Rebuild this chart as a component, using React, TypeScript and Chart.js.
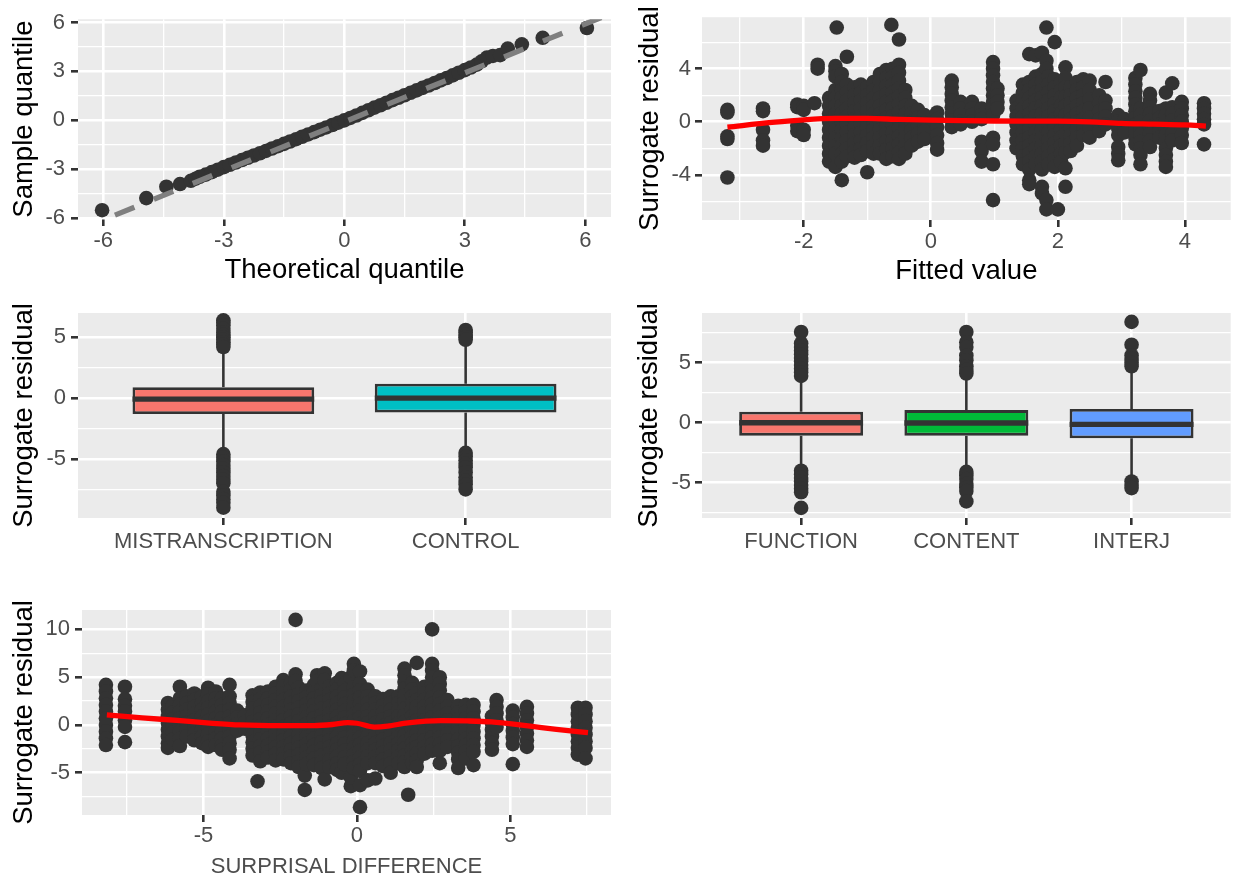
import React, { useEffect, useRef } from 'react';
import { Chart, registerables } from 'chart.js';
Chart.register(...registerables);

const FONT = "'Liberation Sans', Arial, Helvetica, sans-serif";
const TICK_SIZE = 22;
const TITLE_SIZE = 27.5;
const DARK = '#333333';

// ---------- Panel 1: Q-Q plot ----------
const qqPoints: [number, number][] = [
  [-6.03, -5.5], [-4.93, -4.76], [-4.43, -4.06], [-4.09, -3.9], [-3.82, -3.7], [-3.7, -3.57],
  [-3.6, -3.45], [-3.45, -3.32], [-3.3, -3.17], [-3.15, -3.02], [-3.0, -2.86], [-2.85, -2.72],
  [-2.7, -2.58], [-2.55, -2.43], [-2.4, -2.29], [-2.25, -2.15], [-2.1, -2.01], [-1.95, -1.87],
  [-1.8, -1.72], [-1.65, -1.58], [-1.5, -1.44], [-1.35, -1.29], [-1.2, -1.15], [-1.05, -1.0],
  [-0.9, -0.86], [-0.75, -0.72], [-0.6, -0.57], [-0.45, -0.43], [-0.3, -0.28], [-0.15, -0.14],
  [0, 0], [0.15, 0.15], [0.3, 0.3], [0.45, 0.46], [0.6, 0.62], [0.75, 0.78], [0.9, 0.93],
  [1.05, 1.08], [1.2, 1.24], [1.35, 1.39], [1.5, 1.54], [1.65, 1.69], [1.8, 1.84], [1.95, 1.99],
  [2.1, 2.14], [2.25, 2.29], [2.4, 2.45], [2.55, 2.6], [2.7, 2.76], [2.85, 2.92], [3.0, 3.08],
  [3.15, 3.24], [3.3, 3.42], [3.42, 3.62], [3.55, 3.85], [3.7, 3.95], [3.88, 4.0], [4.07, 4.4],
  [4.42, 4.66], [4.94, 5.06], [6.04, 5.66],
];
const qqLineX = [-5.71, 6.8];
const qqLineY = [-5.8, 6.71];

// ---------- Panel 2: residual vs fitted ----------
const fittedColumns: [number, number[]][] = [
  [-3.2, [0.9, 0.7, -1.1, -1.3, -4.2]],
  [-2.64, [1.0, 0.8, -0.6, -1.4, -1.8]],
  [-2.1, [1.3, 1.1, -0.3, -0.7]],
  [-2.0, [1.2, 0.9, -0.6, -1.0]],
  [-1.83, [1.4]],
  [-1.78, [4.3, 4.0]],
  [-1.6, [1.8, 1.2, 0.6, 0.0, -0.6, -1.2, -1.8, -2.4, -3.0]],
  [-1.5, [4.2, 3.8, 3.4, 2.4, 1.8, 1.2, 0.6, 0.0, -0.6, -1.2, -1.8, -2.4, -3.4]],
  [-1.48, [7.1]],
  [-1.4, [3.6, 3.0, 2.4, 1.8, 1.2, 0.6, 0.0, -0.6, -1.2, -1.8, -2.4, -3.0, -4.4]],
  [-1.32, [4.9, 2.8, 2.2, 1.6, 1.0, 0.4, -0.2, -0.8, -1.4, -2.0, -2.6]],
  [-1.2, [2.6, 2.0, 1.4, 0.8, 0.2, -0.4, -1.0, -1.6, -2.2, -2.7]],
  [-1.1, [2.8, 2.2, 1.6, 1.0, 0.4, -0.2, -0.8, -1.4, -2.0, -2.5]],
  [-1.0, [2.6, 2.0, 1.4, 0.8, 0.2, -0.4, -1.0, -1.6, -2.2, -3.8]],
  [-0.9, [3.0, 2.4, 1.8, 1.2, 0.6, 0.0, -0.6, -1.2, -1.8, -2.4]],
  [-0.8, [3.6, 3.0, 2.4, 1.8, 1.2, 0.6, 0.0, -0.6, -1.2, -1.8, -2.4]],
  [-0.7, [3.9, 3.3, 2.7, 2.1, 1.5, 0.9, 0.3, -0.3, -0.9, -1.5, -2.1, -2.8]],
  [-0.62, [7.3]],
  [-0.6, [4.0, 3.4, 2.8, 2.2, 1.6, 1.0, 0.4, -0.2, -0.8, -1.4, -2.0, -2.6]],
  [-0.5, [6.2, 4.3, 3.7, 3.1, 2.5, 1.9, 1.3, 0.7, 0.1, -0.5, -1.1, -1.7, -2.3, -2.8]],
  [-0.4, [2.4, 1.8, 1.2, 0.6, 0.0, -0.6, -1.2, -1.8, -2.4]],
  [-0.3, [1.2, 0.6, 0.0, -0.6, -1.2, -1.8]],
  [-0.2, [0.9, 0.3, -0.3, -0.9, -1.5]],
  [-0.1, [0.5, -0.1, -0.7, -1.3]],
  [0.1, [0.7, 0.2, -0.4, -1.0, -1.6, -2.1]],
  [0.33, [3.1, 2.6, 2.1, 1.6, 1.1, 0.6, 0.1, -0.4]],
  [0.47, [1.5, 1.0, 0.5, 0.0, -0.2]],
  [0.65, [1.5, 1.0, 0.5, 0.0]],
  [0.8, [1.0, 0.5, 0.2, -1.5, -2.2, -3.0]],
  [0.98, [4.5, 4.0, 3.5, 3.0, 2.5, 2.0, 1.5, 1.0, 0.5, -1.2, -1.7, -3.2, -5.9]],
  [1.05, [2.5, 2.0, 1.5, 1.0]],
  [1.35, [1.6, 1.0, 0.4, -0.2, -0.8, -1.4, -2.0]],
  [1.45, [2.8, 2.2, 1.6, 1.0, 0.4, -0.2, -0.8, -1.4, -2.0, -2.6, -3.2]],
  [1.55, [5.1, 3.0, 2.4, 1.8, 1.2, 0.6, 0.0, -0.6, -1.2, -1.8, -2.4, -3.0, -3.6, -4.4, -4.7]],
  [1.65, [5.0, 3.4, 2.8, 2.2, 1.6, 1.0, 0.4, -0.2, -0.8, -1.4, -2.0, -2.6, -3.2]],
  [1.75, [5.2, 3.6, 3.0, 2.4, 1.8, 1.2, 0.6, 0.0, -0.6, -1.2, -1.8, -2.4, -3.0, -3.6, -4.9, -5.4]],
  [1.82, [7.1, 4.6, 4.0, -5.9, -6.6]],
  [1.85, [3.4, 2.8, 2.2, 1.6, 1.0, 0.4, -0.2, -0.8, -1.4, -2.0, -2.6, -3.2]],
  [1.95, [6.0, 3.2, 2.6, 2.0, 1.4, 0.8, 0.2, -0.4, -1.0, -1.6, -2.2, -2.8, -3.4]],
  [2.0, [-6.6]],
  [2.05, [3.0, 2.4, 1.8, 1.2, 0.6, 0.0, -0.6, -1.2, -1.8, -2.4, -3.0]],
  [2.12, [4.1, 3.3, 2.6, 1.9, 1.2, 0.5, -0.2, -0.9, -1.6, -2.3, -3.5, -4.9]],
  [2.2, [2.6, 2.0, 1.4, 0.8, 0.2, -0.4, -1.0, -1.6, -2.2]],
  [2.3, [3.0, 2.4, 1.8, 1.2, 0.6, 0.0, -0.6, -1.2, -1.8]],
  [2.4, [3.2, 2.6, 2.0, 1.4, 0.8, 0.2, -0.4, -1.0]],
  [2.5, [3.1, 2.4, 1.7, 1.0, 0.3, -0.4, -1.2]],
  [2.65, [2.0, 1.4, 0.8, 0.2, -0.4, -0.7]],
  [2.75, [3.0, 1.6, 1.0, 0.4, -0.2]],
  [2.95, [0.5, 0.0, -0.5, -1.0, -1.9, -2.4, -2.9]],
  [3.05, [0.2, -0.3, -0.8]],
  [3.22, [3.3, 2.8, 2.3, 1.8, 1.3, 0.8, 0.3, -0.2, -0.7, -1.2, -1.7]],
  [3.3, [3.9, 1.0, 0.5, 0.0, -0.5, -1.0, -1.5, -2.0, -2.5, -3.2]],
  [3.45, [2.1, 1.6, 1.1, 0.6, 0.1, -0.4, -0.9, -1.4, -1.9]],
  [3.6, [0.8, 0.3, -0.2, -0.7, -1.2]],
  [3.7, [2.2, 1.0, 0.5, 0.0, -0.5, -1.0, -1.5, -2.0, -2.5, -3.0, -3.4]],
  [3.8, [2.9, 1.1, 0.6, 0.1, -0.4, -0.9, -1.4]],
  [3.95, [1.5, 1.0, 0.5, 0.0, -0.5, -1.0, -1.6]],
  [4.3, [1.4, 1.0, 0.6, 0.2, -0.2, -1.7]],
];
const fittedSmoothX = [-3.2, -2.5, -2.0, -1.5, -1.0, -0.5, 0.0, 0.5, 1.0, 1.5, 2.0, 2.5, 3.0, 3.5, 4.0, 4.33];
const fittedSmoothY = [-0.4, -0.05, 0.15, 0.25, 0.25, 0.18, 0.12, 0.08, 0.06, 0.05, 0.05, 0.0, -0.12, -0.18, -0.24, -0.32];

// ---------- Panel 3: boxplot by condition ----------
const conditionCats = ['MISTRANSCRIPTION', 'CONTROL'];
const conditionQ1 = [-1.3, -1.18];
const conditionMedian = [-0.08, 0.0];
const conditionQ3 = [0.9, 1.18];
const conditionLow = [-4.4, -4.3];
const conditionHigh = [4.1, 4.6];
const conditionOutliers: number[][] = [
  [6.4, 6.2, 6.0, 5.7, 5.4, 5.2, 5.0, 4.8, 4.6, 4.4, 4.2,
    -4.6, -4.9, -5.2, -5.5, -5.8, -6.1, -6.4, -6.7, -7.0, -7.7, -8.0, -8.3, -8.6, -9.0],
  [5.6, 5.4, 5.2, 5.0, 4.8,
    -4.5, -4.8, -5.1, -5.4, -5.7, -6.1, -6.5, -6.8, -7.1, -7.5],
];
const conditionFills = ['#F8766D', '#00BFC4'];

// ---------- Panel 4: boxplot by word class ----------
const classCats = ['FUNCTION', 'CONTENT', 'INTERJ'];
const classQ1 = [-1.08, -1.08, -1.3];
const classMedian = [0.0, -0.03, -0.14];
const classQ3 = [0.91, 1.05, 1.14];
const classLow = [-3.8, -3.9, -4.6];
const classHigh = [3.6, 3.9, 4.4];
const classOutliers: number[][] = [
  [7.56, 6.6, 6.3, 6.0, 5.7, 5.4, 5.1, 4.8, 4.5, 4.2, 3.9, -4.0, -4.3, -4.6, -4.9, -5.2, -5.5, -5.8, -7.1],
  [7.56, 6.7, 6.3, 5.6, 5.2, 4.7, 4.4, 4.1, -4.1, -4.4, -4.7, -5.1, -5.4, -5.7, -6.56],
  [8.4, 6.5, 5.6, 5.3, 5.0, 4.7, -4.9, -5.2, -5.45],
];
const classFills = ['#F8766D', '#00BA38', '#619CFF'];

// ---------- Panel 5: residual vs surprisal difference ----------
const surprisalColumns: [number, number[]][] = [
  [-8.18, [4.2, 3.5, 2.8, 2.1, 1.4, 0.7, 0.0, -0.7, -1.4, -2.1]],
  [-7.56, [4.0, 2.7, 2.0, 1.4, 0.5, -0.2, -1.8]],
  [-6.16, [2.3, 1.6, 0.9, 0.2, -0.5, -1.2, -1.9, -2.4]],
  [-6.0, [2.0, 1.3, 0.6, -0.1, -0.8, -1.5]],
  [-5.77, [4.0, 2.8, 2.1, 1.4, 0.7, 0.0, -0.7, -1.4, -2.2]],
  [-5.55, [3.0, 2.3, 1.6, 0.9, 0.2, -0.5, -1.2]],
  [-5.3, [3.3, 2.6, 1.9, 1.2, 0.5, -0.2, -0.9, -1.6]],
  [-5.05, [3.0, 2.3, 1.6, 0.9, 0.2, -0.5, -1.2, -1.9]],
  [-4.85, [3.9, 3.2, 2.5, 1.8, 1.1, 0.4, -0.3, -1.0, -1.7, -2.3]],
  [-4.6, [3.5, 2.8, 2.1, 1.4, 0.7, 0.0, -0.7, -1.4, -2.1]],
  [-4.4, [2.8, 2.1, 1.4, 0.7, 0.0, -0.7, -1.4, -2.1, -2.6]],
  [-4.15, [4.2, 3.0, 2.3, 1.6, 0.9, 0.2, -0.5, -1.2, -1.9, -2.6, -3.5]],
  [-3.9, [1.5, 0.8, 0.1, -0.6]],
  [-3.65, [1.0, 0.3, -0.4]],
  [-3.4, [3.1, 2.4, 1.7, 1.0, 0.3, -0.4, -1.1, -1.8, -2.5, -3.2]],
  [-3.24, [-5.9]],
  [-3.15, [3.4, 2.7, 2.0, 1.3, 0.6, -0.1, -0.8, -1.5, -2.2, -2.9, -3.8]],
  [-2.9, [3.5, 2.8, 2.1, 1.4, 0.7, 0.0, -0.7, -1.4, -2.1, -2.8, -3.4]],
  [-2.65, [4.0, 3.3, 2.6, 1.9, 1.2, 0.5, -0.2, -0.9, -1.6, -2.3, -3.0, -3.7]],
  [-2.4, [4.7, 4.0, 3.3, 2.6, 1.9, 1.2, 0.5, -0.2, -0.9, -1.6, -2.3, -3.0, -3.6]],
  [-2.15, [4.4, 3.7, 3.0, 2.3, 1.6, 0.9, 0.2, -0.5, -1.2, -1.9, -2.6, -3.3, -4.0]],
  [-2.0, [11.0, 5.3, 4.6]],
  [-1.9, [3.9, 3.2, 2.5, 1.8, 1.1, 0.4, -0.3, -1.0, -1.7, -2.4, -3.1, -3.8, -4.4]],
  [-1.7, [-5.3, -6.8]],
  [-1.65, [3.6, 2.9, 2.2, 1.5, 0.8, 0.1, -0.6, -1.3, -2.0, -2.7, -3.4, -4.1]],
  [-1.4, [4.2, 3.5, 2.8, 2.1, 1.4, 0.7, 0.0, -0.7, -1.4, -2.1, -2.8, -3.5, -4.2]],
  [-1.3, [5.2, 4.6]],
  [-1.15, [3.8, 3.1, 2.4, 1.7, 1.0, 0.3, -0.4, -1.1, -1.8, -2.5, -3.2, -3.9, -4.5]],
  [-1.05, [5.4, 4.7, -5.7]],
  [-0.9, [4.0, 3.3, 2.6, 1.9, 1.2, 0.5, -0.2, -0.9, -1.6, -2.3, -3.0, -3.7, -4.4]],
  [-0.65, [4.4, 3.7, 3.0, 2.3, 1.6, 0.9, 0.2, -0.5, -1.2, -1.9, -2.6, -3.3, -4.0, -4.7]],
  [-0.5, [4.9, -5.0]],
  [-0.4, [4.3, 3.6, 2.9, 2.2, 1.5, 0.8, 0.1, -0.6, -1.3, -2.0, -2.7, -3.4, -4.1]],
  [-0.2, [5.0, -6.4, -5.5]],
  [-0.1, [6.4, 5.7, 3.9, 3.2, 2.5, 1.8, 1.1, 0.4, -0.3, -1.0, -1.7, -2.4, -3.1, -3.8, -4.5]],
  [0.1, [5.6, 4.3, 3.6, 2.9, 2.2, 1.5, 0.8, 0.1, -0.6, -1.3, -2.0, -2.7, -3.4, -4.1, -4.8, -6.3, -8.6]],
  [0.35, [3.7, 3.0, 2.3, 1.6, 0.9, 0.2, -0.5, -1.2, -1.9, -2.6, -3.3, -4.0, -5.8]],
  [0.6, [3.0, 2.3, 1.6, 0.9, 0.2, -0.5, -1.2, -1.9, -2.6, -3.3, -4.0, -5.6]],
  [0.85, [2.7, 2.0, 1.3, 0.6, -0.1, -0.8, -1.5, -2.2, -2.9, -3.6, -4.3]],
  [1.1, [3.0, 2.3, 1.6, 0.9, 0.2, -0.5, -1.2, -1.9, -2.6, -3.3, -4.0, -5.0]],
  [1.35, [3.0, 2.3, 1.6, 0.9, 0.2, -0.5, -1.2, -1.9, -2.6, -3.3, -4.0]],
  [1.55, [5.9, 5.2, 4.5, 3.8, 3.1, 2.4, 1.7, 1.0, 0.3, -0.4, -1.1, -1.8, -2.5, -3.2, -3.9, -4.4]],
  [1.67, [-7.3]],
  [1.8, [4.4, 3.7, 3.0, 2.3, 1.6, 0.9, 0.2, -0.5, -1.2, -1.9, -2.6, -3.3, -4.0]],
  [1.95, [6.5, 3.3, 2.6, 1.9, 1.2, 0.5, -0.2, -0.9, -1.6, -2.3, -3.0, -3.7, -4.4]],
  [2.2, [4.0, 3.3, 2.6, 1.9, 1.2, 0.5, -0.2, -0.9, -1.6, -2.3, -3.0]],
  [2.45, [10.0, 6.4, 5.7, 5.0, 4.3, 3.6, 2.9, 2.2, 1.5, 0.8, 0.1, -0.6, -1.3, -2.0, -2.7]],
  [2.7, [5.0, 4.3, 3.6, 2.9, 2.2, 1.5, 0.8, 0.1, -0.6, -1.3, -2.0, -2.7, -4.0]],
  [2.95, [2.6, 1.9, 1.2, 0.5, -0.2, -0.9, -1.6, -2.3]],
  [3.3, [2.0, 1.3, 0.6, -0.1, -0.8, -1.5, -2.2, -2.9, -3.6, -4.5]],
  [3.55, [2.1, 1.4, 0.7, 0.0, -0.7, -1.4, -2.1, -2.8, -3.5]],
  [3.8, [2.1, 1.4, 0.7, 0.0, -0.7, -1.4, -2.1, -2.8, -4.2]],
  [4.4, [0.9, 0.2, -0.5, -1.2, -1.9, -2.6]],
  [4.55, [2.6, 1.9, 1.2, 0.5, -0.2]],
  [5.08, [1.5, 0.8, 0.1, -0.6, -1.3, -2.0, -4.1]],
  [5.54, [1.9, 1.2, 0.5, -0.2, -0.9, -1.6, -2.3]],
  [7.2, [1.8, 1.1, 0.4, -0.3, -1.0, -1.7, -2.4, -3.1]],
  [7.45, [1.8, 1.1, 0.4, -0.3, -1.0, -1.7, -2.4, -3.5]],
];
const surprisalSmoothX = [-8.15, -7.0, -5.76, -4.8, -3.8, -2.5, -1.4, -0.8, -0.3, 0.0, 0.57, 1.0, 1.66, 2.75, 3.6, 4.38, 5.58, 6.5, 7.53];
const surprisalSmoothY = [1.05, 0.75, 0.45, 0.2, 0.0, -0.07, -0.07, 0.05, 0.25, 0.18, -0.22, -0.12, 0.22, 0.45, 0.42, 0.32, -0.1, -0.45, -0.8];

// ---------- helpers ----------
const BOX_HALF = 0.375;
const POINT_R = 7.3;

const panelBg = {
  id: 'panelBg',
  beforeDraw(chart: any) {
    const { ctx, chartArea: a } = chart;
    ctx.save();
    ctx.fillStyle = '#EBEBEB';
    ctx.fillRect(a.left, a.top, a.right - a.left, a.bottom - a.top);
    ctx.restore();
  },
};

type AxisOpts = {
  horizontal: boolean; min: number; max: number; major: number[]; minor: number[];
  size: number; pad: number; labels?: string[]; title?: string; titleSize?: number;
  titleColor?: string; titlePad?: number;
};

function axis(o: AxisOpts) {
  const majorSet = new Set(o.major);
  const all = [...o.major, ...o.minor].sort((a, b) => a - b);
  const isMajor = (c: any) => !!(c && c.tick && majorSet.has(c.tick.value));
  return {
    type: 'linear',
    position: o.horizontal ? 'bottom' : 'left',
    min: o.min,
    max: o.max,
    offset: false,
    afterBuildTicks: (s: any) => { s.ticks = all.map((v) => ({ value: v })); },
    afterFit: (s: any) => { if (o.horizontal) s.height = o.size; else s.width = o.size; },
    ticks: {
      autoSkip: false, maxRotation: 0, minRotation: 0, padding: o.pad,
      color: '#4D4D4D', font: { family: FONT, size: TICK_SIZE },
      callback: (v: number) => (majorSet.has(v) ? (o.labels ? o.labels[v - 1] : String(v)) : ''),
    },
    grid: {
      offset: false,
      color: '#FFFFFF',
      lineWidth: (c: any) => (isMajor(c) ? 2.6 : 1.3),
      tickColor: (c: any) => (isMajor(c) ? DARK : 'rgba(0,0,0,0)'),
      tickWidth: 2.6,
      tickLength: 7,
      drawTicks: true,
      drawOnChartArea: true,
    },
    border: { display: false },
    title: {
      display: !!o.title,
      text: o.title || '',
      color: o.titleColor || '#000000',
      font: { family: FONT, size: o.titleSize || TITLE_SIZE },
      padding: o.horizontal ? { top: 0, bottom: o.titlePad || 0 } : { top: o.titlePad || 0, bottom: 0 },
    },
  };
}

function pointsDs(data: { x: number; y: number }[], order: number) {
  return {
    type: 'scatter', data, order, clip: 0, showLine: false,
    pointRadius: POINT_R, pointHoverRadius: POINT_R, pointBackgroundColor: DARK, pointBorderWidth: 0,
  };
}

function lineDs(data: { x: number; y: number }[], color: string, width: number, order: number, extra: any = {}) {
  return {
    type: 'scatter', data, order, clip: 0, showLine: true, borderColor: color, borderWidth: width,
    pointRadius: 0, pointHoverRadius: 0, borderCapStyle: 'butt', ...extra,
  };
}

function columnsToPoints(cols: [number, number[]][]) {
  const pts: { x: number; y: number }[] = [];
  cols.forEach(([x, ys]) => ys.forEach((y) => pts.push({ x, y })));
  return pts;
}

function zipXY(xs: number[], ys: number[]) {
  return xs.map((x, i) => ({ x, y: ys[i] }));
}

function boxDatasets(cats: string[], q1: number[], med: number[], q3: number[], lo: number[], hi: number[], outs: number[][], fills: string[]) {
  const ds: any[] = [];
  cats.forEach((_, i) => {
    const x = i + 1;
    ds.push(lineDs([{ x, y: lo[i] }, { x, y: q1[i] }], DARK, 2.6, 5));
    ds.push(lineDs([{ x, y: q3[i] }, { x, y: hi[i] }], DARK, 2.6, 5));
    ds.push(lineDs([{ x: x - BOX_HALF, y: med[i] }, { x: x + BOX_HALF, y: med[i] }], DARK, 5.4, 3));
  });
  ds.push({
    type: 'bar',
    data: cats.map((_, i) => ({ x: i + 1, y: [q1[i], q3[i]] })),
    backgroundColor: fills, borderColor: DARK, borderWidth: 2.8, borderSkipped: false,
    barPercentage: 0.75, categoryPercentage: 1, order: 4, clip: 0, inflateAmount: 0,
  });
  const outPts: { x: number; y: number }[] = [];
  outs.forEach((ys, i) => ys.forEach((y) => outPts.push({ x: i + 1, y })));
  ds.push(pointsDs(outPts, 1));
  return ds;
}

function config(datasets: any[], x: any, y: any, padTop: number, padRight: number) {
  return {
    type: 'scatter',
    data: { datasets },
    options: {
      responsive: false,
      animation: false,
      devicePixelRatio: 1,
      events: [],
      layout: { padding: { left: 0, top: padTop, right: padRight, bottom: 0 } },
      plugins: { legend: { display: false }, tooltip: { enabled: false } },
      scales: { x, y },
    },
    plugins: [panelBg],
  };
}

// ---------- panel builders ----------
const buildQQ = () =>
  config(
    [
      lineDs(zipXY(qqLineX, qqLineY), '#7F7F7F', 5.3, 0, { borderDash: [21, 21] }),
      pointsDs(qqPoints.map(([x, y]) => ({ x, y })), 1),
    ],
    axis({ horizontal: true, min: -6.63, max: 6.64, major: [-6, -3, 0, 3, 6], minor: [-4.5, -1.5, 1.5, 4.5], size: 74, pad: 2, title: 'Theoretical quantile', titlePad: 6.5 }),
    axis({ horizontal: false, min: -6.04, max: 6.2, major: [-6, -3, 0, 3, 6], minor: [-4.5, -1.5, 1.5, 4.5], size: 78, pad: 6, title: 'Sample quantile', titlePad: 7.5 }),
    15, 8,
  );

const buildFitted = () =>
  config(
    [
      lineDs(zipXY(fittedSmoothX, fittedSmoothY), '#FF0000', 5.3, 0, { cubicInterpolationMode: 'monotone' }),
      pointsDs(columnsToPoints(fittedColumns), 1),
    ],
    axis({ horizontal: true, min: -3.6, max: 4.72, major: [-2, 0, 2, 4], minor: [-3, -1, 1, 3], size: 73, pad: 2, title: 'Fitted value', titlePad: 5.5 }),
    axis({ horizontal: false, min: -7.4, max: 7.88, major: [-4, 0, 4], minor: [-6, -2, 2, 6], size: 83, pad: 4, title: 'Surrogate residual', titlePad: 14.5 }),
    15, 1,
  );

const buildCondition = () =>
  config(
    boxDatasets(conditionCats, conditionQ1, conditionMedian, conditionQ3, conditionLow, conditionHigh, conditionOutliers, conditionFills),
    axis({ horizontal: true, min: 0.4, max: 2.6, major: [1, 2], minor: [], size: 68, pad: 4, labels: conditionCats }),
    axis({ horizontal: false, min: -9.85, max: 7.0, major: [-5, 0, 5], minor: [-7.5, -2.5, 2.5], size: 78, pad: 5, title: 'Surrogate residual', titlePad: 7.5 }),
    20, 8,
  );

const buildClass = () =>
  config(
    boxDatasets(classCats, classQ1, classMedian, classQ3, classLow, classHigh, classOutliers, classFills),
    axis({ horizontal: true, min: 0.4, max: 3.6, major: [1, 2, 3], minor: [], size: 68, pad: 4, labels: classCats }),
    axis({ horizontal: false, min: -7.94, max: 9.14, major: [-5, 0, 5], minor: [-7.5, -2.5, 2.5, 7.5], size: 83, pad: 4, title: 'Surrogate residual', titlePad: 13.5 }),
    20, 1,
  );

const buildSurprisal = () =>
  config(
    [
      lineDs(zipXY(surprisalSmoothX, surprisalSmoothY), '#FF0000', 5.3, 0, { cubicInterpolationMode: 'monotone' }),
      pointsDs(columnsToPoints(surprisalColumns), 1),
    ],
    axis({ horizontal: true, min: -8.96, max: 8.28, major: [-5, 0, 5], minor: [-7.5, -2.5, 2.5, 7.5], size: 67, pad: 1, title: 'SURPRISAL DIFFERENCE', titleSize: TICK_SIZE, titleColor: '#4D4D4D', titlePad: 2.3 }),
    axis({ horizontal: false, min: -9.42, max: 12.03, major: [-5, 0, 5, 10], minor: [-7.5, -2.5, 2.5, 7.5], size: 82, pad: 5, title: 'Surrogate residual', titlePad: 7.5 }),
    24, 8,
  );

function ChartPanel(props: { left: number; top: number; width: number; height: number; build: () => any }) {
  const ref = useRef<HTMLCanvasElement>(null);
  useEffect(() => {
    const chart = new Chart(ref.current as HTMLCanvasElement, props.build());
    return () => chart.destroy();
  }, []);
  return (
    <canvas
      ref={ref}
      width={props.width}
      height={props.height}
      style={{ position: 'absolute', left: props.left, top: props.top, width: props.width, height: props.height }}
    />
  );
}

export default function App() {
  return (
    <div style={{ position: 'fixed', left: 0, top: 0, width: 1238, height: 878, overflow: 'hidden', background: '#FFFFFF' }}>
      <ChartPanel left={0} top={0} width={619} height={293} build={buildQQ} />
      <ChartPanel left={619} top={0} width={619} height={293} build={buildFitted} />
      <ChartPanel left={0} top={293} width={619} height={293} build={buildCondition} />
      <ChartPanel left={619} top={293} width={619} height={293} build={buildClass} />
      <ChartPanel left={0} top={586} width={619} height={296} build={buildSurprisal} />
    </div>
  );
}
